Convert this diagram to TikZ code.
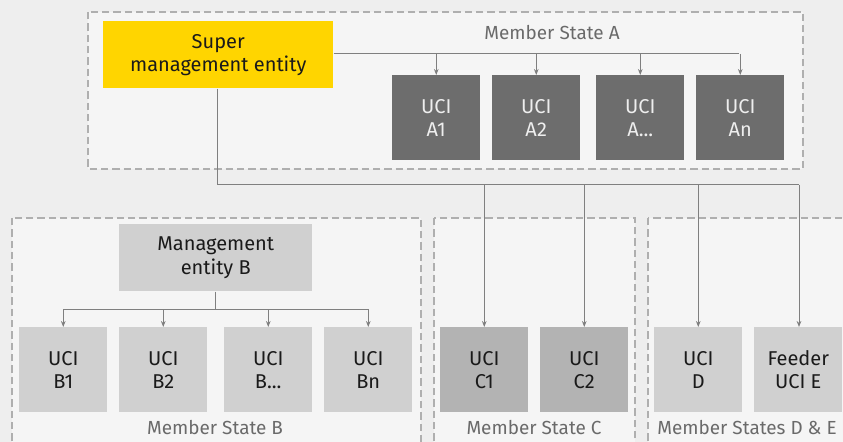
\documentclass[tikz,border=0pt]{standalone}
\usepackage{fontspec}
\setmainfont{Fira Sans}
\usetikzlibrary{arrows.meta}
\definecolor{bgc}{HTML}{EEEEEE}
\definecolor{panel}{HTML}{F5F5F5}
\definecolor{dashc}{HTML}{AFAFAF}
\definecolor{ey}{HTML}{FFD500}
\definecolor{dark}{HTML}{6D6D6D}
\definecolor{mid}{HTML}{B3B3B3}
\definecolor{light}{HTML}{D0D0D0}
\definecolor{linec}{HTML}{7F7F7F}
\definecolor{labc}{HTML}{6A6A6A}
\definecolor{txt}{HTML}{1A1A1A}
\def\tdots{...}
\begin{document}
\begin{tikzpicture}[x=0.75pt,y=-0.75pt,
  panelbox/.style={draw=dashc,fill=panel,line width=0.9pt,dash pattern=on 5.5pt off 3pt},
  ucibox/.style={anchor=north west,inner sep=0pt,align=center,font=\fontsize{15}{17.4}\selectfont,text=txt},
  lab/.style={font=\fontsize{14.2}{17}\selectfont,text=labc},
  conn/.style={draw=linec,line width=0.75pt},
  arr/.style={conn,-{Stealth[length=4.5pt,width=3.5pt]}}]
\useasboundingbox (0,0) rectangle (843,442);
\fill[bgc] (0,0) rectangle (843,442);
\begin{scope}
\clip (0,0) rectangle (843,442);
% panels
\draw[panelbox] (88,12) rectangle (803,169);
\draw[panelbox] (12,218) rectangle (421,460);
\draw[panelbox] (434,218) rectangle (635,460);
\draw[panelbox] (648,218) rectangle (860,460);
\end{scope}
% labels
\node[lab] (lA) at (552,33) {Member State A};
\node[lab] (lB) at (215,428) {Member State B};
\node[lab] (lC) at (534,428) {Member State C};
\node[lab] (lDE) at (747,428) {Member States D \& E};
% super management entity
\node[ucibox,fill=ey,minimum width=230*0.75pt,minimum height=67*0.75pt] (sup) at (103,21) {Super\\management entity};
% A boxes
\foreach \n/\x/\t in {a1/392/A1,a2/492/A2,a3/596/A\tdots,a4/696/An}{
  \node[ucibox,fill=dark,text=bgc,minimum width=88*0.75pt,minimum height=85*0.75pt] (\n) at (\x,75) {UCI\\\t};
}
% Management entity B
\node[ucibox,fill=light,minimum width=193*0.75pt,minimum height=67*0.75pt] (meb) at (119,224) {Management\\entity B};
\foreach \n/\x/\t in {b1/19/B1,b2/119/B2,b3/224/B\tdots,b4/324/Bn}{
  \node[ucibox,fill=light,minimum width=88*0.75pt,minimum height=85*0.75pt] (\n) at (\x,327) {UCI\\\t};
}
\node[ucibox,fill=mid,minimum width=88*0.75pt,minimum height=85*0.75pt] (c1) at (440,327) {UCI\\C1};
\node[ucibox,fill=mid,minimum width=88*0.75pt,minimum height=85*0.75pt] (c2) at (540,327) {UCI\\C2};
\node[ucibox,fill=light,minimum width=88*0.75pt,minimum height=85*0.75pt] (d) at (654,327) {UCI\\D};
\node[ucibox,fill=light,minimum width=88*0.75pt,minimum height=85*0.75pt] (e) at (754,327) {Feeder\\UCI E};
% connectors within A
\coordinate (hA) at (739,54);
\draw[conn] (sup.east |- hA) -- (hA);
\foreach \n in {a1,a2,a3,a4}{
  \draw[arr] (\n.north |- hA) -- (\n.north);
}
% super to B..E
\coordinate (hS) at (217,185);
\coordinate (hE) at (799,185);
\draw[conn] (sup.south -| hS) -- (hS) -- (hE);
\draw[arr] (c1.north |- hS) -- (c1.north);
\draw[arr] (c2.north |- hS) -- (c2.north);
\draw[arr] (d.north |- hS) -- (d.north);
\draw[arr] (hE) -- (e.north -| hE);
% management B
\coordinate (hB) at (215,309);
\draw[conn] (meb.south) -- (meb.south |- hB);
\draw[conn] (b1.north |- hB) -- (b4.north |- hB);
\foreach \n in {b1,b2,b3,b4}{
  \draw[arr] (\n.north |- hB) -- (\n.north);
}
\end{tikzpicture}
\end{document}
